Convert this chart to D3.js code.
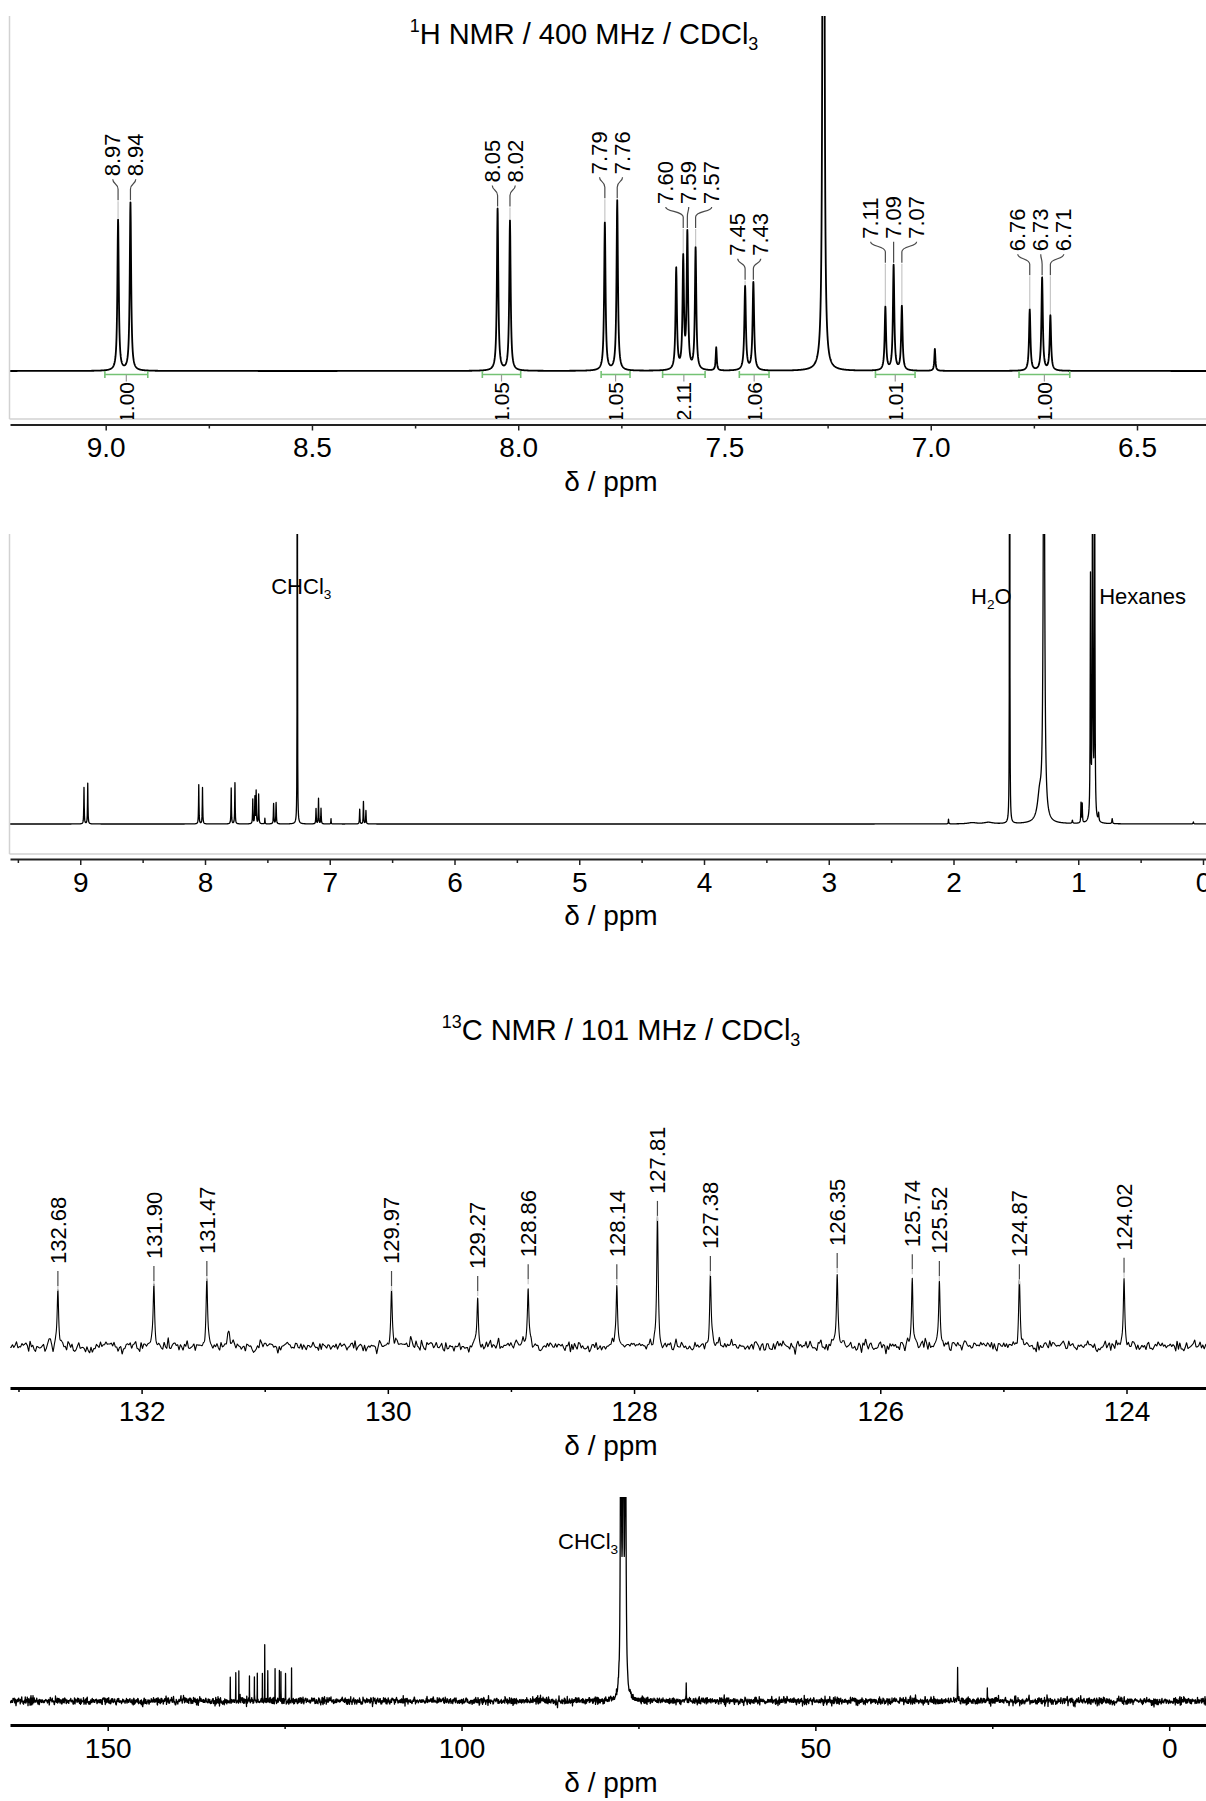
<!DOCTYPE html>
<html>
<head>
<meta charset="utf-8">
<script src="https://cdn.jsdelivr.net/npm/d3@7"></script>
<style>
  html, body { margin: 0; padding: 0; background: #fff; }
  svg { display: block; }
</style>
</head>
<body>
<svg id="chart" width="1206" height="1801"></svg>
<script>
// ---------------- 1H NMR (400 MHz, CDCl3) ----------------
// peak list: shift (ppm), height (full-spectrum units), half width (ppm)
const h1Shift  = [8.97, 8.94, 8.05, 8.02, 7.79, 7.76, 7.617, 7.60, 7.59, 7.57, 7.52, 7.45, 7.43,
                  7.26, 7.11, 7.09, 7.07, 6.99, 6.76, 6.73, 6.71,
                  2.04, 1.85, 1.72, 1.55, 1.31, 1.275, 1.047, 0.978, 0.968,
                  0.902, 0.885, 0.868, 0.837, 0.728, 0.077];
const h1Height = [36.5, 40.7, 39.2, 36.3, 35.8, 41.2, 24.5, 26.6, 32.7, 29.5, 5.6, 20.3, 21.3,
                  1000, 15.3, 25.4, 15.5, 5.3, 14.8, 22.5, 13.3,
                  4.7, 1.2, 1.5, 1000, 25, 520, 3, 20, 19,
                  240, 480, 330, 8, 5, 2];
const h1Hwhm   = [0.002, 0.002, 0.002, 0.002, 0.002, 0.002, 0.002, 0.002, 0.002, 0.002, 0.0015, 0.0022, 0.0022,
                  0.0009, 0.002, 0.002, 0.002, 0.0015, 0.002, 0.002, 0.002,
                  0.002, 0.04, 0.04, 0.0012, 0.02, 0.006, 0.003, 0.002, 0.002,
                  0.0025, 0.0025, 0.0025, 0.003, 0.003, 0.003];

// picked peaks, grouped by multiplet
const h1PickGroups = [[8.97, 8.94], [8.05, 8.02], [7.79, 7.76], [7.60, 7.59, 7.57],
                      [7.45, 7.43], [7.11, 7.09, 7.07], [6.76, 6.73, 6.71]];

// integration regions (ppm) and integral values
const h1IntFrom  = [9.002, 8.087, 7.799, 7.650, 7.464, 7.134, 6.786];
const h1IntTo    = [8.898, 7.994, 7.729, 7.547, 7.392, 7.038, 6.663];
const h1IntValue = ["1.00", "1.05", "1.05", "2.11", "1.06", "1.01", "1.00"];

// residual solvent / impurity annotations on the full 1H spectrum
const h1SolventText  = ["CHCl_3", "H_2O", "Hexanes"];
const h1SolventShift = [7.26, 1.55, 0.88];

// axis ticks
const h1ZoomTicks  = [9.0, 8.5, 8.0, 7.5, 7.0, 6.5];
const h1ZoomMinor  = [8.75, 8.25, 7.75, 7.25, 6.75];
const h1FullTicks  = [9, 8, 7, 6, 5, 4, 3, 2, 1, 0];
const h1FullMinor  = [9.5, 8.5, 7.5, 6.5, 5.5, 4.5, 3.5, 2.5, 1.5, 0.5];

// ---------------- 13C NMR (101 MHz, CDCl3) ----------------
const c13Shift  = [132.68, 131.90, 131.47, 131.29, 129.97, 129.27, 128.86, 128.14, 127.81, 127.38,
                   126.35, 125.74, 125.52, 124.87, 124.02,
                   77.48, 77.16, 76.84, 68.25, 29.9, 25.7, 19.8, 14.4];
const c13Height = [55, 60, 65, 14, 55, 50, 61.7, 61.7, 125, 70,
                   73, 71.7, 65, 61.7, 68.3,
                   900, 900, 900, 35, 76, 27.6, 11, 18];
const c13Hwhm   = [0.007, 0.007, 0.007, 0.012, 0.007, 0.007, 0.007, 0.007, 0.007, 0.007,
                   0.007, 0.007, 0.007, 0.007, 0.007,
                   0.072, 0.072, 0.072, 0.02, 0.02, 0.02, 0.03, 0.03];
const c13Picked = [132.68, 131.90, 131.47, 129.97, 129.27, 128.86, 128.14, 127.81, 127.38,
                   126.35, 125.74, 125.52, 124.87, 124.02];

const c13SolventText  = ["CHCl_3"];
const c13SolventShift = [77.16];

const c13ZoomTicks = [132, 130, 128, 126, 124];
const c13ZoomMinor = [133, 131, 129, 127, 125];
const c13FullTicks = [150, 100, 50, 0];
const c13FullMinor = [125, 75, 25];

// ---------------- drawing ----------------
const FONT = '"Liberation Sans", Arial, Helvetica, sans-serif';
const svg = d3.select("#chart");
const W = 1206;
const PLOT_LEFT = 10;

// sum of Lorentzian lines
function lineShape(shifts, heights, widths) {
  return p => {
    let s = 0;
    for (let i = 0; i < shifts.length; i++) {
      const d = p - shifts[i], g = widths[i];
      s += heights[i] * g * g / (d * d + g * g);
    }
    return s;
  };
}
const h1Fn = lineShape(h1Shift, h1Height, h1Hwhm);
const c13Fn = lineShape(c13Shift, c13Height, c13Hwhm);

// baseline noise texture of the carbon traces (seeded, so the trace is stable)
const rnd = d3.randomNormal.source(d3.randomLcg(0.2718))(0, 1);
function noiseGrid(lo, hi, step) {
  const v = d3.range(lo, hi + step, step).map(() => rnd());
  return p => {
    const t = (p - lo) / step;
    const i = Math.max(0, Math.min(v.length - 2, Math.floor(t)));
    const f = Math.min(1, Math.max(0, t - i));
    return v[i] + (v[i + 1] - v[i]) * f;
  };
}
const noiseZoom = noiseGrid(122.5, 134, 0.011);
const noiseFull = noiseGrid(-8, 168, 0.035);

// x scale spanning the whole plot width, anchored on two tick positions
function xScale(d0, d1, r0, r1) {
  const base = d3.scaleLinear().domain([d0, d1]).range([r0, r1]);
  return d3.scaleLinear().domain([base.invert(PLOT_LEFT), base.invert(W)]).range([PLOT_LEFT, W]);
}

function samplePoints(x, pxStep, centers) {
  const [a, b] = x.domain();
  const lo = Math.min(a, b), hi = Math.max(a, b);
  const step = pxStep * Math.abs(a - b) / (W - PLOT_LEFT);
  const pts = d3.range(lo, hi, step);
  centers.forEach(c => { if (c > lo && c < hi) pts.push(c); });
  return pts.sort((m, n) => m - n);
}

// text with ^superscript and _subscript digit runs
function richText(sel, str, size) {
  const parts = str.split(/([\^_]\d+)/).filter(s => s.length);
  let offset = 0;
  parts.forEach(part => {
    let target = 0, txt = part, fs = size;
    if (part[0] === "^") { target = -0.42 * size; txt = part.slice(1); fs = size * 0.62; }
    else if (part[0] === "_") { target = 0.22 * size; txt = part.slice(1); fs = size * 0.62; }
    sel.append("tspan").attr("dy", target - offset).attr("font-size", fs).text(txt);
    offset = target;
  });
}

function drawAxis(g, x, y, major, minor, fmt, width, color) {
  const ax = g.append("g").attr("transform", `translate(0,${y})`)
    .call(d3.axisBottom(x).tickValues(major).tickFormat(fmt).tickSize(6).tickPadding(7).tickSizeOuter(0));
  ax.attr("font-family", FONT).attr("font-size", 28);
  ax.select(".domain").attr("stroke", color).attr("stroke-width", width);
  ax.selectAll(".tick line").attr("stroke", color).attr("stroke-width", 1.5);
  ax.selectAll(".tick text").attr("fill", "#000");
  const mn = g.append("g").attr("transform", `translate(0,${y})`)
    .call(d3.axisBottom(x).tickValues(minor).tickFormat("").tickSize(4).tickSizeOuter(0));
  mn.select(".domain").remove();
  mn.selectAll(".tick line").attr("stroke", color).attr("stroke-width", 1.5);
}

function axisTitle(g, y) {
  g.append("text").attr("x", 611).attr("y", y).attr("text-anchor", "middle")
    .attr("font-family", FONT).attr("font-size", 28).attr("fill", "#000").text("δ / ppm");
}

function clip(id, x0, y0, x1, y1) {
  svg.append("clipPath").attr("id", id).append("rect")
    .attr("x", x0).attr("y", y0).attr("width", x1 - x0).attr("height", y1 - y0);
  return `url(#${id})`;
}

function trace(g, x, y, fn, pts, noise, sigma, width) {
  const line = d3.line()
    .x(p => x(p))
    .y(p => y(fn(p)) - (noise ? noise(p) * sigma : 0));
  g.append("path").attr("d", line(pts)).attr("fill", "none")
    .attr("stroke", "#000").attr("stroke-width", width).attr("stroke-linejoin", "round");
}

function frame(g, top, bottom) {
  g.append("line").attr("x1", 9.5).attr("x2", 9.5).attr("y1", top).attr("y2", bottom)
    .attr("stroke", "#d2d2d2").attr("stroke-width", 1.5);
  g.append("line").attr("x1", 9.5).attr("x2", W).attr("y1", bottom).attr("y2", bottom)
    .attr("stroke", "#d2d2d2").attr("stroke-width", 1.5);
}

function solventLabel(g, str, x, y, anchor) {
  const t = g.append("text").attr("x", x).attr("y", y).attr("text-anchor", anchor)
    .attr("font-family", FONT).attr("font-size", 22).attr("fill", "#000");
  richText(t, str, 22);
}

// ===== Panel 1: expanded aromatic region of the 1H spectrum =====
{
  const g = svg.append("g");
  const x = xScale(9.0, 6.5, 105.7, 1137);
  const y = d3.scaleLinear().domain([0, 86]).range([371, 16]);
  const cp = clip("clip-h1z", PLOT_LEFT, 16, W, 419);

  g.append("text").attr("x", 584).attr("y", 44).attr("text-anchor", "middle")
    .attr("font-family", FONT).attr("font-size", 29).attr("fill", "#000")
    .call(t => richText(t, "^1H NMR / 400 MHz / CDCl_3", 29));

  frame(g, 16, 419);
  const body = g.append("g").attr("clip-path", cp);
  trace(body, x, y, h1Fn, samplePoints(x, 0.25, h1Shift), null, 0, 1.8);

  // integrals
  h1IntFrom.forEach((a, i) => {
    const xa = x(a), xb = x(h1IntTo[i]), xc = (xa + xb) / 2, yi = 374.5;
    body.append("line").attr("x1", xa).attr("x2", xb).attr("y1", yi).attr("y2", yi)
      .attr("stroke", "#74c274").attr("stroke-width", 1.6);
    [xa, xb].forEach(xe => body.append("line").attr("x1", xe).attr("x2", xe)
      .attr("y1", yi - 3.5).attr("y2", yi + 3.5).attr("stroke", "#74c274").attr("stroke-width", 1.6));
    body.append("line").attr("x1", xc).attr("x2", xc).attr("y1", yi).attr("y2", yi + 7)
      .attr("stroke", "#9a9a9a").attr("stroke-width", 1.2);
    body.append("text").attr("transform", `translate(${xc},382) rotate(-90)`)
      .attr("text-anchor", "end").attr("dy", "0.35em")
      .attr("font-family", FONT).attr("font-size", 21).attr("fill", "#000")
      .text(h1IntValue[i]);
  });

  // picked peak labels
  const gap = 23;
  h1PickGroups.forEach(group => {
    const px = group.map(v => x(v));
    const tops = group.map(v => y(h1Fn(v)));
    const mid = d3.mean(px);
    const yb = d3.min(tops) - 26;
    group.forEach((v, i) => {
      const lx = mid + (i - (group.length - 1) / 2) * gap;
      g.append("text").attr("transform", `translate(${lx},${yb}) rotate(-90)`)
        .attr("dy", "0.35em").attr("font-family", FONT).attr("font-size", 22).attr("fill", "#000")
        .text(v.toFixed(2));
      g.append("path")
        .attr("d", `M${lx},${yb + 3}C${lx},${yb + 8} ${px[i]},${yb + 7} ${px[i]},${yb + 13}L${px[i]},${yb + 24}`)
        .attr("fill", "none").attr("stroke", "#4a4a4a").attr("stroke-width", 1.2);
      if (tops[i] - 1 > yb + 25) {
        g.append("line").attr("x1", px[i]).attr("x2", px[i]).attr("y1", yb + 25).attr("y2", tops[i] - 1)
          .attr("stroke", "#c6c6c6").attr("stroke-width", 1.2);
      }
    });
  });

  drawAxis(g, x, 424.5, h1ZoomTicks, h1ZoomMinor, d3.format(".1f"), 2, "#222");
  axisTitle(g, 491);
}

// ===== Panel 2: full 1H spectrum =====
{
  const g = svg.append("g");
  const x = xScale(9, 0, 80.25, 1203);
  const y = d3.scaleLinear().domain([0, 290]).range([824, 534]);
  const cp = clip("clip-h1f", PLOT_LEFT, 534, W, 854);
  frame(g, 534, 854);
  const body = g.append("g").attr("clip-path", cp);
  trace(body, x, y, h1Fn, samplePoints(x, 0.25, h1Shift), null, 0, 1.3);

  const anchors = ["middle", "end", "start"];
  const dx = [4, 2, 6];
  h1SolventText.forEach((s, i) => {
    const ly = i === 0 ? 594 : 604;
    solventLabel(g, s, x(h1SolventShift[i]) + dx[i], ly, anchors[i]);
  });

  drawAxis(g, x, 859, h1FullTicks, h1FullMinor, d3.format("d"), 2, "#222");
  axisTitle(g, 925);
}

// ===== Panel 3: expanded 13C spectrum =====
{
  const g = svg.append("g");
  const x = xScale(132, 124, 141.6, 1126.5);
  const y = d3.scaleLinear().domain([0, 140]).range([1346, 1206]);
  const cp = clip("clip-c13z", PLOT_LEFT, 1100, W, 1384);

  g.append("text").attr("x", 621).attr("y", 1040).attr("text-anchor", "middle")
    .attr("font-family", FONT).attr("font-size", 29).attr("fill", "#000")
    .call(t => richText(t, "^13C NMR / 101 MHz / CDCl_3", 29));

  const body = g.append("g").attr("clip-path", cp);
  trace(body, x, y, c13Fn, samplePoints(x, 0.25, c13Shift), noiseZoom, 2.9, 1.1);

  c13Picked.forEach(v => {
    const px = x(v), top = y(c13Fn(v)), yb = top - 27;
    g.append("text").attr("transform", `translate(${px},${yb}) rotate(-90)`)
      .attr("dy", "0.35em").attr("font-family", FONT).attr("font-size", 22).attr("fill", "#000")
      .text(v.toFixed(2));
    g.append("line").attr("x1", px).attr("x2", px).attr("y1", yb + 7).attr("y2", yb + 22)
      .attr("stroke", "#4a4a4a").attr("stroke-width", 1.2);
    g.append("line").attr("x1", px).attr("x2", px).attr("y1", yb + 22).attr("y2", top)
      .attr("stroke", "#c6c6c6").attr("stroke-width", 1.2);
  });

  drawAxis(g, x, 1388, c13ZoomTicks, c13ZoomMinor, d3.format("d"), 3, "#000");
  axisTitle(g, 1455);
}

// ===== Panel 4: full 13C spectrum =====
{
  const g = svg.append("g");
  const x = xScale(150, 0, 107.7, 1169.2);
  const y = d3.scaleLinear().domain([0, 457]).range([1701, 1497]);
  const cp = clip("clip-c13f", PLOT_LEFT, 1497, W, 1721);
  const body = g.append("g").attr("clip-path", cp);
  trace(body, x, y, c13Fn, samplePoints(x, 0.25, c13Shift), noiseFull, 2.1, 1.3);

  c13SolventText.forEach((s, i) => solventLabel(g, s, x(c13SolventShift[i]) - 5, 1549, "end"));

  drawAxis(g, x, 1725, c13FullTicks, c13FullMinor, d3.format("d"), 3, "#000");
  axisTitle(g, 1792);
}
</script>
</body>
</html>
